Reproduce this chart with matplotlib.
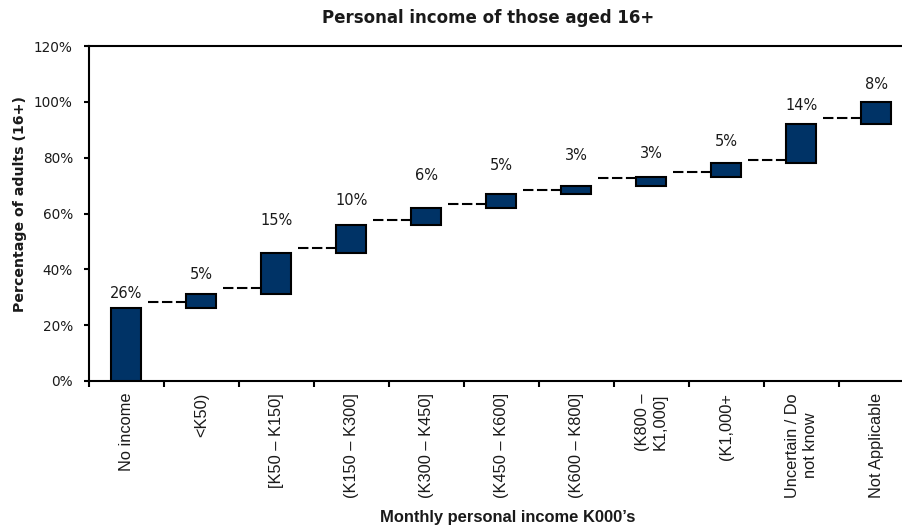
import matplotlib
matplotlib.use("Agg")
import matplotlib.pyplot as plt
from matplotlib.ticker import FixedLocator, FuncFormatter

# Income bands and their share of adults (percent)
categories = [
    "No income", "<K50)", "[K50 \u2013 K150]", "(K150 \u2013 K300]",
    "(K300 \u2013 K450]", "(K450 \u2013 K600]", "(K600 \u2013 K800]",
    "(K800 \u2013\nK1,000]", "(K1,000+", "Uncertain / Do\nnot know",
    "Not Applicable",
]
shares = [26, 5, 15, 10, 6, 5, 3, 3, 5, 14, 8]
value_labels = ["26%", "5%", "15%", "10%", "6%", "5%", "3%", "3%", "5%", "14%", "8%"]
# Levels of the dashed step connectors between neighbouring bars
connector_levels = [28.2, 33.4, 47.6, 57.7, 63.3, 68.3, 72.8, 74.8, 79.2, 94.1]
y_ticks = [0, 20, 40, 60, 80, 100, 120]

# Layout: label distance above each bar top, in pixels
label_offsets_px = [15, 20, 32, 24, 32, 28, 30, 24, 22, 19, 17]

BAR_COLOR = "#003366"
TEXT_COLOR = "#1a1a1a"

W, H = 903, 526
fig = plt.figure(figsize=(W / 100, H / 100), dpi=100)
left_px, right_px, top_px, bottom_px = 89, 914, 46, 381
ax = fig.add_axes([left_px / W, 1 - bottom_px / H,
                   (right_px - left_px) / W, (bottom_px - top_px) / H])

n = len(shares)
xs = list(range(n))
bottoms = []
running = 0
for s in shares:
    bottoms.append(running)
    running += s

bar_w = 0.4
ax.bar(xs, shares, bottom=bottoms, width=bar_w, color=BAR_COLOR,
       edgecolor="black", linewidth=1.5, zorder=3)

# dashed connectors from each bar to the next one
for i, lvl in enumerate(connector_levels):
    ax.plot([i + bar_w / 2 + 0.09, i + 1 - bar_w / 2], [lvl, lvl],
            color="black", linewidth=1.5, dashes=(5, 1.7), zorder=2,
            solid_capstyle="butt", dash_capstyle="butt")

# percentage labels above the bars
for i, (b, s, lab) in enumerate(zip(bottoms, shares, value_labels)):
    ax.annotate(lab, xy=(i, b + s), xytext=(0, label_offsets_px[i] * 0.72),
                textcoords="offset points", ha="center", va="center",
                fontsize=10.5, color=TEXT_COLOR, family="DejaVu Sans")

ax.set_xlim(-0.5, n - 0.5)
ax.set_ylim(0, 120)

ax.yaxis.set_major_locator(FixedLocator(y_ticks))
ax.yaxis.set_major_formatter(FuncFormatter(lambda v, p: f"{v:.0f}%"))
ax.tick_params(axis="y", direction="out", length=3.6, width=1.5,
               pad=8, labelsize=9.8, labelcolor=TEXT_COLOR)
for t in ax.get_yticklabels():
    t.set_family("DejaVu Sans")

ax.set_xticks(xs)
ax.set_xticklabels(categories, rotation=90, family="Liberation Sans",
                   fontsize=11.8, color=TEXT_COLOR)
for t in ax.get_xticklabels():
    t.set_multialignment("center")
ax.set_xticks([i - 0.5 for i in range(n + 1)], minor=True)
ax.tick_params(axis="x", which="major", length=0, pad=8.6)
ax.tick_params(axis="x", which="minor", direction="out", length=4.3, width=1.5)

for sp in ax.spines.values():
    sp.set_linewidth(1.5)
    sp.set_color("black")

ax.set_ylabel("Percentage of adults (16+)", fontsize=10.2, fontweight="bold",
              family="DejaVu Sans", color=TEXT_COLOR)
ax.yaxis.set_label_coords(-(left_px - 27) / (right_px - left_px),
                          (381 - 204.5) / (bottom_px - top_px))

fig.text(507.5 / W, 1 - 521.7 / H, "Monthly personal income K000\u2019s",
         ha="center", va="baseline", fontsize=11.9, fontweight="bold",
         family="Liberation Sans", color=TEXT_COLOR)

fig.text(488 / W, 1 - 22.7 / H, "Personal income of those aged 16+",
         ha="center", va="baseline", fontsize=12, fontweight="bold",
         family="DejaVu Sans", color=TEXT_COLOR)

fig.savefig("out.png", dpi=100)
